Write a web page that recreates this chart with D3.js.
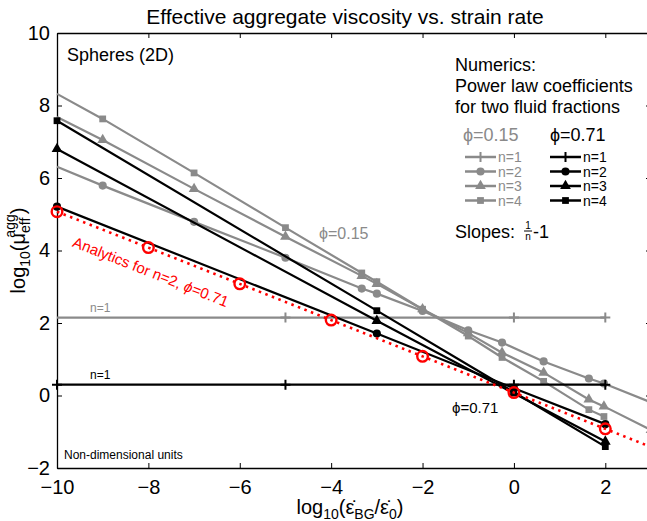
<!DOCTYPE html>
<html>
<head>
<meta charset="utf-8">
<script src="https://cdn.jsdelivr.net/npm/d3@7"></script>
<style>
  body { margin: 0; background: #fff; }
  svg { display: block; font-family: "Liberation Sans", Arial, sans-serif; }
</style>
</head>
<body>
<div id="chart"></div>
<script>
// axes
const xTicks = [-10, -8, -6, -4, -2, 0, 2];
const yTicks = [-2, 0, 2, 4, 6, 8, 10];

// numerics, phi = 0.15 (gray)
const grayX  = [-10, -9, -7, -5, -3.33, -3, -2, -1, -0.26, 0.65, 1.64, 1.97, 3];
const grayN2 = [6.31, 5.79, 4.79, 3.80, 2.95, 2.81, 2.33, 1.80, 1.46, 0.94, 0.47, 0.33, -0.19];
const grayN3 = [7.68, 7.05, 5.70, 4.38, 3.30, 3.08, 2.38, 1.72, 1.18, 0.63, -0.11, -0.30, -0.95];
const grayN4 = [8.32, 7.63, 6.14, 4.63, 3.38, 3.14, 2.38, 1.64, 1.05, 0.39, -0.39, -0.58];
const n1X    = [-10, -5, 0, 2];
const grayN1 = [2.15, 2.15, 2.15, 2.15];

// numerics, phi = 0.71 (black)
const blackX  = [-10, -3, 0, 2];
const blackN1 = [0.30, 0.30, 0.30, 0.30];
const blackN2 = [5.21, 1.71, 0.20, -0.79];
const blackN3 = [6.80, 2.06, 0.06, -1.27];
const blackN4 = [7.58, 2.34, 0.09, -1.41];

// analytics n=2, phi=0.71
const analyticX = [-10, -8, -6, -4, -2, 0, 2, 3];
const analyticY = [5.07, 4.08, 3.08, 2.08, 1.08, 0.08, -0.92, -1.42];
const analyticMarkX = [-10, -8, -6, -4, -2, 0, 2];

const width = 647, height = 521;
const marginLeft = 57, marginTop = 33, plotRight = 651, plotBottom = 468;

const GRAY = "#8a8a8a", BLACK = "#000", RED = "#ff0000";

const zip = (xs, ys) => ys.map((y, i) => ({ x: xs[i], y }));

const series = [
  { key: "g1", n: 1, color: GRAY, shape: "plus", values: zip(n1X, grayN1) },
  { key: "g2", n: 2, color: GRAY, shape: "circle", values: zip(grayX, grayN2) },
  { key: "g3", n: 3, color: GRAY, shape: "triangle", values: zip(grayX, grayN3) },
  { key: "g4", n: 4, color: GRAY, shape: "square", values: zip(grayX, grayN4) },
  { key: "b1", n: 1, color: BLACK, shape: "plus", values: zip(n1X, blackN1) },
  { key: "b2", n: 2, color: BLACK, shape: "circle", values: zip(blackX, blackN2) },
  { key: "b3", n: 3, color: BLACK, shape: "triangle", values: zip(blackX, blackN3) },
  { key: "b4", n: 4, color: BLACK, shape: "square", values: zip(blackX, blackN4) }
];

const x = d3.scaleLinear().domain([-10, 3]).range([marginLeft, plotRight]);
const y = d3.scaleLinear().domain([-2, 10]).range([plotBottom, marginTop]);

const svg = d3.select("#chart").append("svg")
  .attr("width", width)
  .attr("height", height)
  .attr("viewBox", [0, 0, width, height]);

// marker path
function marker(shape) {
  if (shape === "plus") return "M0,-5V5M-5,0H5";
  const types = { circle: d3.symbolCircle, triangle: d3.symbolTriangle, square: d3.symbolSquare };
  const sizes = { circle: 52, triangle: 50, square: 46 };
  return d3.symbol(types[shape], sizes[shape])();
}

// axes (ticks pointing inward, box)
svg.append("g")
  .attr("transform", `translate(0,${plotBottom})`)
  .call(d3.axisBottom(x).tickValues(xTicks).tickSizeInner(-5).tickSizeOuter(0).tickPadding(12).tickFormat(d3.format("d")))
  .call(g => g.selectAll("text").attr("font-size", 20).attr("font-family", null).attr("fill", "#000"));

svg.append("g")
  .attr("transform", `translate(0,${marginTop})`)
  .call(d3.axisTop(x).tickValues(xTicks).tickSizeInner(-5).tickSizeOuter(0).tickFormat(""));

svg.append("g")
  .attr("transform", `translate(${marginLeft},0)`)
  .call(d3.axisLeft(y).tickValues(yTicks).tickSizeInner(-5).tickSizeOuter(0).tickPadding(7).tickFormat(d3.format("d")))
  .call(g => g.selectAll("text").attr("font-size", 20).attr("font-family", null).attr("fill", "#000"));

svg.append("g")
  .attr("transform", `translate(${plotRight},0)`)
  .call(d3.axisRight(y).tickValues(yTicks).tickSizeInner(-5).tickSizeOuter(0).tickFormat(""));

svg.selectAll(".domain").attr("stroke-width", 1.3);

// title + axis labels
svg.append("text")
  .attr("x", 345).attr("y", 24)
  .attr("text-anchor", "middle")
  .attr("font-size", 21)
  .text("Effective aggregate viscosity vs. strain rate");

const xl = svg.append("text")
  .attr("x", 350).attr("y", 514)
  .attr("text-anchor", "middle")
  .attr("font-size", 20);
xl.append("tspan").text("log");
xl.append("tspan").attr("font-size", 14).attr("dy", 5).text("10");
xl.append("tspan").attr("dy", -5).text("(\u03b5\u0307");
xl.append("tspan").attr("font-size", 14).attr("dy", 5).text("BG");
xl.append("tspan").attr("dy", -5).text("/\u03b5\u0307");
xl.append("tspan").attr("font-size", 14).attr("dy", 5).text("0");
xl.append("tspan").attr("dy", -5).text(")");

const yl = svg.append("text")
  .attr("transform", `translate(25,${(marginTop + plotBottom) / 2}) rotate(-90)`)
  .attr("text-anchor", "middle")
  .attr("font-size", 20);
yl.append("tspan").text("log");
yl.append("tspan").attr("font-size", 14).attr("dy", 5).text("10");
yl.append("tspan").attr("dy", -5).text("(\u03bc");
yl.append("tspan").attr("font-size", 14).attr("dy", 5).text("eff");
yl.append("tspan").attr("font-size", 14).attr("dx", -20).attr("dy", -15).text("agg");
yl.append("tspan").attr("dy", 10).text(")");

// data lines
const line = d3.line().x(d => x(d.x)).y(d => y(d.y));

const serie = svg.append("g")
  .selectAll("g")
  .data(series)
  .join("g");

serie.append("path")
  .attr("fill", "none")
  .attr("stroke", d => d.color)
  .attr("stroke-width", 2.2)
  .attr("d", d => line(d.values));

// analytics (red dotted, open circles)
const analytic = zip(analyticX, analyticY);
svg.append("path")
  .attr("fill", "none")
  .attr("stroke", RED)
  .attr("stroke-width", 2.6)
  .attr("stroke-dasharray", "2.5,4.5")
  .attr("d", line(analytic));

svg.append("g")
  .selectAll("circle")
  .data(analytic.filter(d => analyticMarkX.includes(d.x)))
  .join("circle")
  .attr("cx", d => x(d.x))
  .attr("cy", d => y(d.y))
  .attr("r", 5.3)
  .attr("fill", "none")
  .attr("stroke", RED)
  .attr("stroke-width", 2.4);

// markers (gray lines carry no marker on the left axis)
serie.each(function (s) {
  const pts = s.color === GRAY ? s.values.filter(d => d.x > -10) : s.values;
  d3.select(this).selectAll("path.mk")
    .data(pts)
    .join("path")
    .attr("class", "mk")
    .attr("transform", d => `translate(${x(d.x)},${y(d.y)})`)
    .attr("d", marker(s.shape))
    .attr("fill", s.color)
    .attr("stroke", s.color)
    .attr("stroke-width", s.shape === "plus" ? 2 : 0);
});

// annotations
svg.append("text").attr("x", 67).attr("y", 61).attr("font-size", 18).text("Spheres (2D)");
svg.append("text").attr("x", 64).attr("y", 459).attr("font-size", 12).text("Non-dimensional units");
svg.append("text").attr("x", 90).attr("y", y(grayN1[0]) - 6).attr("font-size", 12).attr("fill", GRAY).text("n=1");
svg.append("text").attr("x", 90).attr("y", y(blackN1[0]) - 6).attr("font-size", 12).attr("fill", BLACK).text("n=1");
svg.append("text").attr("x", 319).attr("y", 239).attr("font-size", 16).attr("fill", GRAY).text("\u03d5=0.15");
svg.append("text").attr("x", 452).attr("y", 413).attr("font-size", 15).attr("fill", BLACK).text("\u03d5=0.71");

const angle = Math.atan2(y(analyticY[6]) - y(analyticY[0]), x(analyticX[6]) - x(analyticX[0])) * 180 / Math.PI;
const at = svg.append("text")
  .attr("transform", `translate(${x(-9.68)},${y(4.12)}) rotate(${angle})`)
  .attr("font-size", 15)
  .attr("fill", RED);
at.append("tspan").text("Analytics for n=2, ");
at.append("tspan").attr("font-style", "italic").text("\u03d5");
at.append("tspan").text("=0.71");

// legend
const lg = svg.append("g").attr("font-size", 18);
lg.append("text").attr("x", 455).attr("y", 71).text("Numerics:");
lg.append("text").attr("x", 455).attr("y", 92).text("Power law coefficients");
lg.append("text").attr("x", 455).attr("y", 113).text("for two fluid fractions");
lg.append("text").attr("x", 463).attr("y", 141).attr("fill", GRAY).text("\u03d5=0.15");
lg.append("text").attr("x", 550).attr("y", 141).attr("fill", BLACK).text("\u03d5=0.71");

const cols = [{ color: GRAY, x0: 465 }, { color: BLACK, x0: 550 }];
cols.forEach(c => {
  const rows = series.filter(s => s.color === c.color);
  const row = lg.append("g").selectAll("g")
    .data(rows)
    .join("g")
    .attr("transform", (d, i) => `translate(${c.x0},${157 + i * 14.5})`);
  row.append("line").attr("x1", 0).attr("x2", 31).attr("stroke", c.color).attr("stroke-width", 2.5);
  row.append("path")
    .attr("transform", "translate(15.5,0)")
    .attr("d", d => marker(d.shape))
    .attr("fill", c.color)
    .attr("stroke", c.color)
    .attr("stroke-width", d => d.shape === "plus" ? 2 : 0);
  row.append("text")
    .attr("x", 33).attr("dy", "0.36em")
    .attr("font-size", 14)
    .attr("fill", c.color)
    .text(d => `n=${d.n}`);
});

const slopes = lg.append("text").attr("x", 455).attr("y", 238).text("Slopes:");
const sx = 455 + slopes.node().getComputedTextLength() + 9;
lg.append("text").attr("x", sx + 4).attr("y", 229).attr("font-size", 10).attr("text-anchor", "middle").text("1");
lg.append("line").attr("x1", sx).attr("x2", sx + 8).attr("y1", 231).attr("y2", 231).attr("stroke", "#000").attr("stroke-width", 1);
lg.append("text").attr("x", sx + 4).attr("y", 240).attr("font-size", 10).attr("text-anchor", "middle").text("n");
lg.append("text").attr("x", sx + 9).attr("y", 238).text("-1");
</script>
</body>
</html>
